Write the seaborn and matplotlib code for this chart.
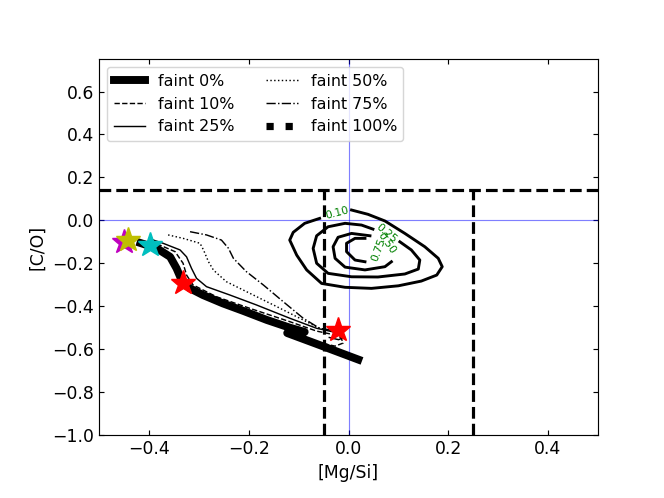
import numpy as np
import pandas as pd
import seaborn as sns
import matplotlib
matplotlib.use('Agg')
import matplotlib.pyplot as plt
from matplotlib.lines import Line2D

plt.rcParams['font.size'] = 12

# ---------------- trilhas (tracks) ----------------
f0_x = [-0.425, -0.385, -0.358, -0.345, -0.335, -0.318, -0.292, -0.252, -0.211, -0.164, -0.118, -0.088,
        -0.123, -0.058, 0.027]
f0_y = [-0.100, -0.130, -0.170, -0.224, -0.278, -0.317, -0.348, -0.387, -0.422, -0.464, -0.500, -0.520,
        -0.525, -0.581, -0.655]

f10_x = [-0.415, -0.379, -0.348, -0.332, -0.325, -0.312, -0.265, -0.198, -0.118, -0.064, -0.035, -0.015,
         -0.011, -0.027, -0.047]
f10_y = [-0.095, -0.115, -0.146, -0.200, -0.255, -0.301, -0.356, -0.410, -0.472, -0.516, -0.530, -0.546,
         -0.572, -0.586, -0.576]

f25_x = [-0.398, -0.372, -0.338, -0.325, -0.315, -0.305, -0.285, -0.238, -0.185, -0.118, -0.064, -0.030,
         -0.008, -0.020, -0.040]
f25_y = [-0.087, -0.107, -0.138, -0.170, -0.224, -0.270, -0.309, -0.348, -0.394, -0.456, -0.503, -0.520,
         -0.544, -0.556, -0.545]

f50_x = [-0.362, -0.332, -0.298, -0.291, -0.281, -0.271, -0.245, -0.198, -0.144, -0.098, -0.058, -0.035,
         -0.021]
f50_y = [-0.068, -0.084, -0.107, -0.138, -0.193, -0.232, -0.286, -0.340, -0.402, -0.456, -0.503, -0.514,
         -0.524]

f75_x = [-0.318, -0.285, -0.255, -0.241, -0.231, -0.205, -0.171, -0.131, -0.091, -0.058, -0.033]
f75_y = [-0.053, -0.068, -0.092, -0.130, -0.177, -0.239, -0.301, -0.379, -0.456, -0.503, -0.512]

f100_x = []
f100_y = []

# estrelas
star_x = [-0.451, -0.443, -0.399, -0.332, -0.021]
star_y = [-0.101, -0.092, -0.115, -0.292, -0.511]
star_cor = ['m', 'y', 'c', 'r', 'r']

# ---------------- contornos ----------------
c10_x = [0.006, 0.039, 0.073, 0.113, 0.153, 0.180, 0.188, 0.177, 0.146, 0.100, 0.046, -0.007, -0.054, -0.084, -0.104, -0.118, -0.111, -0.088, -0.058]
c10_y = [0.048, 0.028, -0.003, -0.061, -0.123, -0.177, -0.216, -0.255, -0.283, -0.305, -0.317, -0.312, -0.294, -0.231, -0.162, -0.092, -0.056, -0.014, 0.009]

c25_x = [0.103, 0.126, 0.143, 0.140, 0.113, 0.059, 0.006, -0.041, -0.064, -0.071, -0.064, -0.041, -0.007, 0.026, 0.049]
c25_y = [-0.100, -0.138, -0.185, -0.227, -0.250, -0.264, -0.263, -0.247, -0.200, -0.131, -0.072, -0.030, -0.014, -0.022, -0.041]

c50_x = [0.086, 0.073, 0.033, -0.007, -0.027, -0.031, -0.021, 0.006, 0.043]
c50_y = [-0.193, -0.216, -0.231, -0.218, -0.177, -0.123, -0.079, -0.061, -0.072]

c75_x = [0.033, 0.013, -0.004, -0.004, 0.013, 0.033]
c75_y = [-0.084, -0.084, -0.107, -0.146, -0.185, -0.193]

niveis = ['0.10', '0.25', '0.50', '0.75']
rot_x = [-0.024, 0.075, 0.076, 0.061]
rot_y = [0.033, -0.061, -0.107, -0.138]
rot_ang = [15, -40, -55, 70]

# limites
lim_co = 0.14
lim_mgsi = [-0.05, 0.25]

fig = plt.figure(figsize=(6.4, 4.8), dpi=103.75)
ax = fig.add_axes([0.1496, 0.1265, 0.7506, 0.7544])

ax.axhline(0, color='blue', lw=0.8, alpha=0.5)
ax.axvline(0, color='blue', lw=0.8, alpha=0.5)

# trilhas
trilhas = [
    (f0_x, f0_y, '-', 5.5),
    (f10_x, f10_y, '--', 1.0),
    (f25_x, f25_y, '-', 1.0),
    (f50_x, f50_y, ':', 1.0),
    (f75_x, f75_y, '-.', 1.0),
]
for tx, ty, ls, lw in trilhas:
    df = pd.DataFrame({'x': tx, 'y': ty})
    sns.lineplot(data=df, x='x', y='y', sort=False, estimator=None, color='k',
                 linestyle=ls, lw=lw, ax=ax, solid_capstyle='butt')
if len(f100_x):
    ax.plot(f100_x, f100_y, 'k:', lw=5)

# contornos
for cx, cy in [(c10_x, c10_y), (c25_x, c25_y), (c50_x, c50_y), (c75_x, c75_y)]:
    sns.lineplot(x=cx, y=cy, sort=False, estimator=None, color='k', lw=2, ax=ax)
for txt, x, y, a in zip(niveis, rot_x, rot_y, rot_ang):
    ax.text(x, y, txt, color='g', fontsize=7.5, rotation=a, ha='center', va='center')

# limites tracejados
ax.axhline(lim_co, color='k', ls='--', lw=2.2)
for xv in lim_mgsi:
    ax.plot([xv, xv], [-1.0, lim_co], 'k--', lw=2.2)

# estrelas
for sx, sy, c in zip(star_x, star_y, star_cor):
    ax.plot(sx, sy, marker='*', color=c, ms=18, ls='none')

ax.set_xlim(-0.5, 0.5)
ax.set_ylim(-1.0, 0.75)
ax.set_xticks([-0.4, -0.2, 0.0, 0.2, 0.4])
ax.set_yticks([-1.0, -0.8, -0.6, -0.4, -0.2, 0.0, 0.2, 0.4, 0.6])
ax.tick_params(direction='in', top=True, right=True)
ax.set_xlabel('[Mg/Si]')
ax.set_ylabel('[C/O]')

handles = [
    Line2D([], [], color='k', ls='-', lw=5.5),
    Line2D([], [], color='k', ls='--', lw=1),
    Line2D([], [], color='k', ls='-', lw=1),
    Line2D([], [], color='k', ls=':', lw=1),
    Line2D([], [], color='k', ls='-.', lw=1),
    Line2D([], [], color='k', ls=':', lw=5),
]
labels = ['faint 0%', 'faint 10%', 'faint 25%', 'faint 50%', 'faint 75%', 'faint 100%']
ax.legend(handles, labels, loc='upper left', ncol=2, fontsize=11)

fig.savefig('out.png', dpi=103.75)
